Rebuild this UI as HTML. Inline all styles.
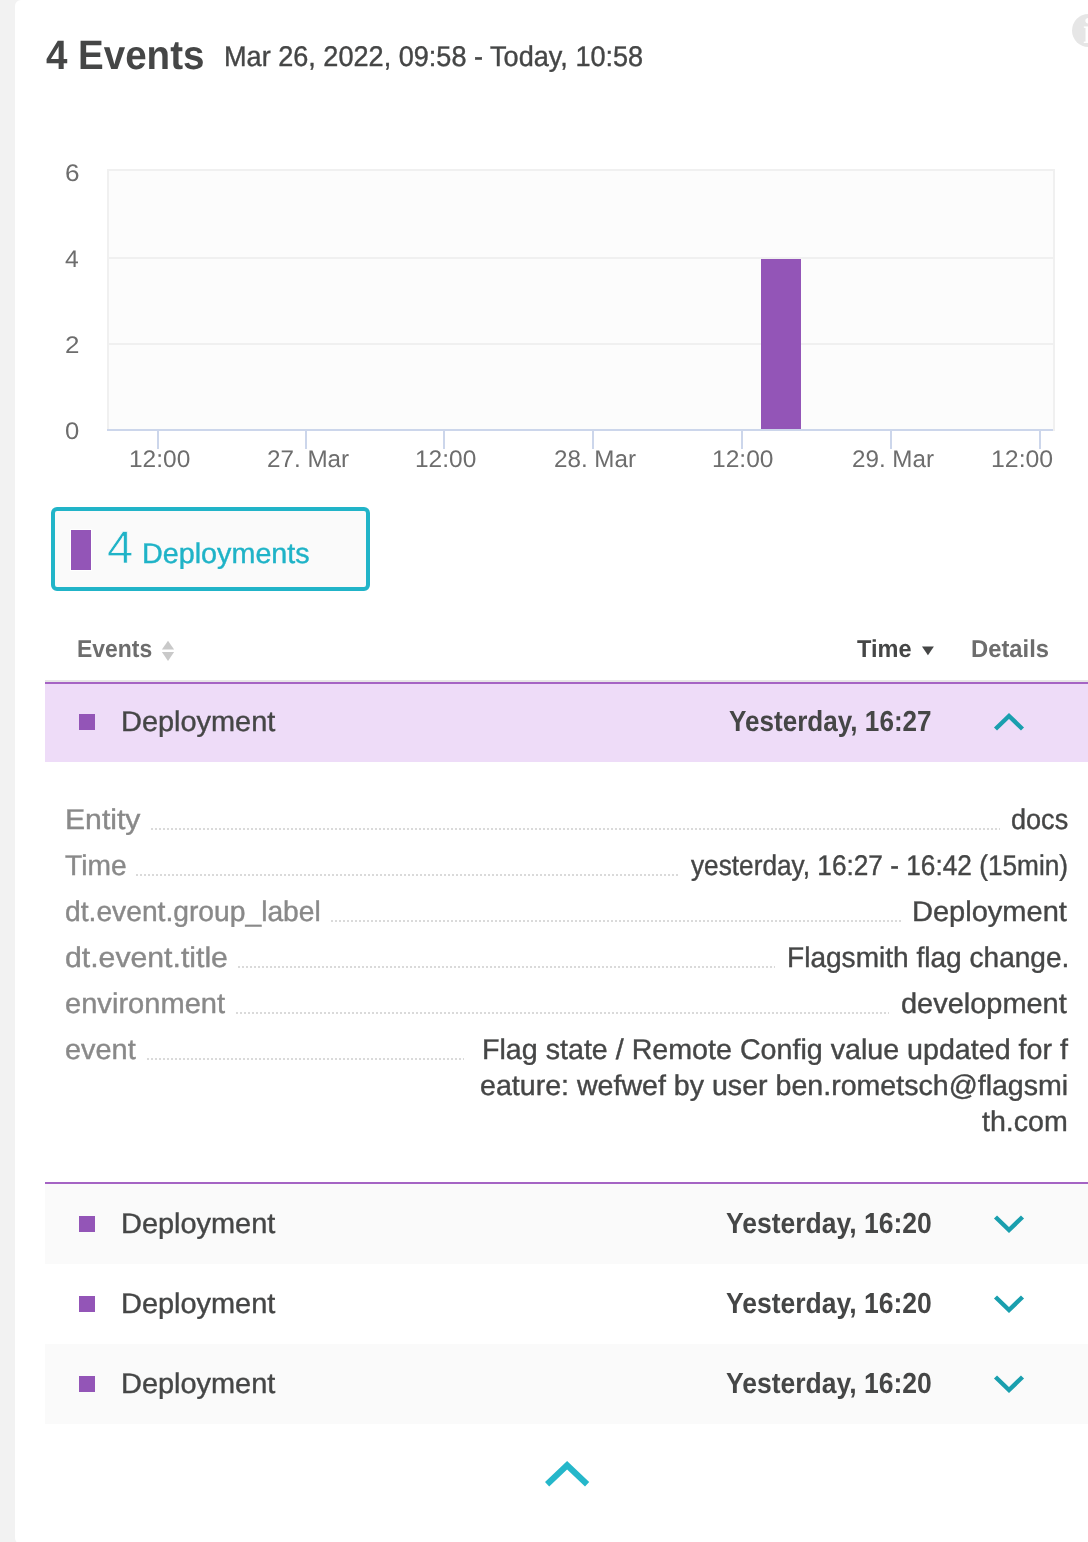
<!DOCTYPE html>
<html lang="en">
<head>
<meta charset="utf-8">
<title>4 Events</title>
<style>
*{box-sizing:border-box;margin:0;padding:0}
html,body{width:1088px;height:1542px;overflow:hidden;background:#f2f2f2}
body{font-family:"Liberation Sans",sans-serif;color:#454646;position:relative}
.card{position:absolute;left:15px;top:0;width:1090px;height:1544px;background:#fff;border-radius:6px}
.t{position:absolute;white-space:nowrap;line-height:1;transform-origin:0 0;left:0;top:0;text-rendering:geometricPrecision;-webkit-text-stroke:0.4px currentColor}
.b,.c{-webkit-text-stroke:0}
#l4{-webkit-text-stroke:0.7px #fafafa}
.b{font-weight:bold}
.g{color:#6d6d6d}
.k{color:#898989}
.tq{color:#1fb3c7}
.abs{position:absolute}
.tick{top:431px;width:2px;height:18px;background:#ccd6eb}
.sq{left:79px;width:16px;height:16px;background:#9355b7}
.dots{height:2px;background:repeating-linear-gradient(90deg,#dadada 0,#dadada 2px,transparent 2px,transparent 4px)}
</style>
<style id="fitcss">
#h1{left:45.78px;top:35px;font-size:41px;transform:scaleX(0.939)}
#h2{left:223.86px;top:43px;font-size:28.5px;transform:scaleX(0.9505)}
#y6{left:64.54px;top:162px;font-size:24px;transform:scaleX(1.0909)}
#y4{left:64.79px;top:248px;font-size:24px;transform:scaleX(1.0286)}
#y2{left:64.65px;top:334px;font-size:24px;transform:scaleX(1.0818)}
#y0{left:64.53px;top:420px;font-size:24px;transform:scaleX(1.0696)}
#x1{left:128.91px;top:448px;font-size:24px;transform:scaleX(1.0201)}
#x2{left:267.24px;top:448px;font-size:24px;transform:scaleX(1.0094)}
#x3{left:414.91px;top:448px;font-size:24px;transform:scaleX(1.0201)}
#x4{left:553.74px;top:448px;font-size:24px;transform:scaleX(1.0082)}
#x5{left:712.41px;top:448px;font-size:24px;transform:scaleX(1.0236)}
#x6{left:851.74px;top:448px;font-size:24px;transform:scaleX(1.0082)}
#x7{left:991.09px;top:448px;font-size:24px;transform:scaleX(1.0349)}
#l4{left:106.66px;top:524px;font-size:46px;transform:scaleX(1.0244)}
#ldep{left:141.63px;top:540px;font-size:28.5px;transform:scaleX(1.0083)}
#thE{left:77.26px;top:638px;font-size:24.5px;transform:scaleX(0.9355)}
#thT{left:857.36px;top:638px;font-size:24.5px;transform:scaleX(0.9614)}
#thD{left:971.2px;top:638px;font-size:24.5px;transform:scaleX(0.9703)}
#r1a{left:120.92px;top:708px;font-size:28.5px;transform:scaleX(1.0144)}
#r1b{left:729.45px;top:708px;font-size:29px;transform:scaleX(0.8998)}
#k1{left:64.82px;top:806px;font-size:28.5px;transform:scaleX(1.0585)}
#k2{left:64.51px;top:852px;font-size:28.5px;transform:scaleX(0.9893)}
#k3{left:65.11px;top:898px;font-size:28.5px;transform:scaleX(0.9902)}
#k4{left:65.04px;top:944px;font-size:28.5px;transform:scaleX(1.0601)}
#k5{left:64.98px;top:990px;font-size:28.5px;transform:scaleX(1.0209)}
#k6{left:64.99px;top:1036px;font-size:28.5px;transform:scaleX(1.0138)}
#v1{left:1010.65px;top:806px;font-size:28.5px;transform:scaleX(0.9494)}
#v2{left:690.83px;top:852px;font-size:28.5px;transform:scaleX(0.9202)}
#v3{left:912.31px;top:898px;font-size:28.5px;transform:scaleX(1.0184)}
#v4{left:786.58px;top:944px;font-size:28.5px;transform:scaleX(0.9848)}
#v5{left:901.28px;top:990px;font-size:28.5px;transform:scaleX(1.0157)}
#e1{left:481.64px;top:1036px;font-size:28.5px;transform:scaleX(1.005)}
#e2{left:480.05px;top:1072px;font-size:28.5px;transform:scaleX(1.0029)}
#e3{left:982.05px;top:1108px;font-size:28.5px;transform:scaleX(1.003)}
#r2a{left:120.92px;top:1210px;font-size:28.5px;transform:scaleX(1.0144)}
#r2b{left:725.74px;top:1210px;font-size:29px;transform:scaleX(0.9136)}
#r3a{left:120.92px;top:1290px;font-size:28.5px;transform:scaleX(1.0144)}
#r3b{left:725.74px;top:1290px;font-size:29px;transform:scaleX(0.9136)}
#r4a{left:120.92px;top:1370px;font-size:28.5px;transform:scaleX(1.0144)}
#r4b{left:725.74px;top:1370px;font-size:29px;transform:scaleX(0.9136)}
</style>
</head>
<body>
<div class="card"></div>

<!-- header -->
<div class="t b" id="h1">4 Events</div>
<div class="t" id="h2">Mar 26, 2022, 09:58 - Today, 10:58</div>

<!-- info icon -->
<div class="abs" style="left:1071.5px;top:13.8px;width:33.3px;height:33.3px;border-radius:50%;background:#e6e6e6"></div>
<div class="t b" id="inf" style="left:1083.1px;top:13px;font-size:36px;color:#fff;font-family:'Liberation Serif',serif">i</div>

<!-- chart -->
<div class="abs" id="plot" style="left:107px;top:169px;width:948px;height:262px;background:#fcfcfc;border:2px solid #f0f0f0;border-bottom:none"></div>
<div class="abs" style="left:107px;top:257px;width:948px;height:2px;background:#f0f0f0"></div>
<div class="abs" style="left:107px;top:343px;width:948px;height:2px;background:#f0f0f0"></div>
<div class="abs" id="bar" style="left:761px;top:259px;width:40px;height:170px;background:#9355b7"></div>
<div class="abs" style="left:107px;top:429px;width:946px;height:2px;background:#ccd6eb"></div>

<div class="abs tick" style="left:157px"></div>
<div class="abs tick" style="left:305px"></div>
<div class="abs tick" style="left:443px"></div>
<div class="abs tick" style="left:592px"></div>
<div class="abs tick" style="left:741px"></div>
<div class="abs tick" style="left:890px"></div>
<div class="abs tick" style="left:1039px"></div>

<div class="t g c" id="y6">6</div>
<div class="t g c" id="y4">4</div>
<div class="t g c" id="y2">2</div>
<div class="t g c" id="y0">0</div>

<div class="t g c" id="x1">12:00</div>
<div class="t g c" id="x2">27. Mar</div>
<div class="t g c" id="x3">12:00</div>
<div class="t g c" id="x4">28. Mar</div>
<div class="t g c" id="x5">12:00</div>
<div class="t g c" id="x6">29. Mar</div>
<div class="t g c" id="x7">12:00</div>

<!-- legend box -->
<div class="abs" id="lbox" style="left:51px;top:507px;width:319px;height:84px;border:4px solid #21b4c8;border-radius:6px;background:#fafafa"></div>
<div class="abs" style="left:71px;top:530px;width:20px;height:40px;background:#9355b7;box-shadow:0 0 0 1px #fff"></div>
<div class="t tq" id="l4">4</div>
<div class="t tq" id="ldep">Deployments</div>

<!-- table header -->
<div class="t b g" id="thE">Events</div>
<svg class="abs" style="left:161px;top:640px" width="14" height="22" viewBox="0 0 14 22"><path d="M7 0.8L13.1 9.6H0.9z" fill="#c9c9c9"/><path d="M0.9 12H13.1L7 20.9z" fill="#c9c9c9"/></svg>
<div class="t b" id="thT">Time</div>
<svg class="abs" style="left:922px;top:646px" width="13" height="10" viewBox="0 0 13 10"><path d="M0 0.4H11.9L5.95 9.3z" fill="#454646"/></svg>
<div class="t b g" id="thD">Details</div>

<!-- row 1 (expanded) -->
<div class="abs" style="left:45px;top:680px;width:1043px;height:2px;background:#e6e6e6"></div>
<div class="abs" style="left:45px;top:682px;width:1043px;height:80px;background:#eedcf8;border-top:2px solid #a564c4"></div>
<div class="abs sq" style="top:714px"></div>
<div class="t" id="r1a">Deployment</div>
<div class="t b" id="r1b">Yesterday, 16:27</div>
<svg class="abs" style="left:989px;top:708px" width="40" height="28" viewBox="0 0 40 28"><path d="M6.5 21L20 8L33.5 21" fill="none" stroke="#1a9fae" stroke-width="4.4"/></svg>

<!-- details -->
<div class="t k" id="k1">Entity</div><div class="abs dots" style="left:151px;top:828px;width:849px"></div><div class="t" id="v1">docs</div>
<div class="t k" id="k2">Time</div><div class="abs dots" style="left:136px;top:874px;width:544px"></div><div class="t" id="v2">yesterday, 16:27 - 16:42 (15min)</div>
<div class="t k" id="k3">dt.event.group_label</div><div class="abs dots" style="left:331px;top:920px;width:572px"></div><div class="t" id="v3">Deployment</div>
<div class="t k" id="k4">dt.event.title</div><div class="abs dots" style="left:238px;top:966px;width:537px"></div><div class="t" id="v4">Flagsmith flag change.</div>
<div class="t k" id="k5">environment</div><div class="abs dots" style="left:236px;top:1012px;width:653px"></div><div class="t" id="v5">development</div>
<div class="t k" id="k6">event</div><div class="abs dots" style="left:147px;top:1058px;width:317px"></div>
<div class="t" id="e1">Flag state / Remote Config value updated for f</div>
<div class="t" id="e2">eature: wefwef by user ben.rometsch@flagsmi</div>
<div class="t" id="e3">th.com</div>

<!-- rows 2-4 -->
<div class="abs" style="left:45px;top:1182px;width:1043px;height:82px;background:#fafafa;border-top:2px solid #a564c4"></div>
<div class="abs" style="left:45px;top:1344px;width:1043px;height:80px;background:#fafafa"></div>

<div class="abs sq" style="top:1216px"></div>
<div class="t" id="r2a">Deployment</div>
<div class="t b" id="r2b">Yesterday, 16:20</div>
<svg class="abs" style="left:989px;top:1210px" width="40" height="28" viewBox="0 0 40 28"><path d="M6.5 7L20 20L33.5 7" fill="none" stroke="#1a9fae" stroke-width="4.4"/></svg>

<div class="abs sq" style="top:1296px"></div>
<div class="t" id="r3a">Deployment</div>
<div class="t b" id="r3b">Yesterday, 16:20</div>
<svg class="abs" style="left:989px;top:1290px" width="40" height="28" viewBox="0 0 40 28"><path d="M6.5 7L20 20L33.5 7" fill="none" stroke="#1a9fae" stroke-width="4.4"/></svg>

<div class="abs sq" style="top:1376px"></div>
<div class="t" id="r4a">Deployment</div>
<div class="t b" id="r4b">Yesterday, 16:20</div>
<svg class="abs" style="left:989px;top:1370px" width="40" height="28" viewBox="0 0 40 28"><path d="M6.5 7L20 20L33.5 7" fill="none" stroke="#1a9fae" stroke-width="4.4"/></svg>

<!-- bottom chevron -->
<svg class="abs" style="left:537px;top:1454px" width="60" height="40" viewBox="0 0 60 40"><path d="M10.1 30.2L30.1 11.3L50.1 30.2" fill="none" stroke="#25b7ca" stroke-width="6.1"/></svg>
</body>
</html>
